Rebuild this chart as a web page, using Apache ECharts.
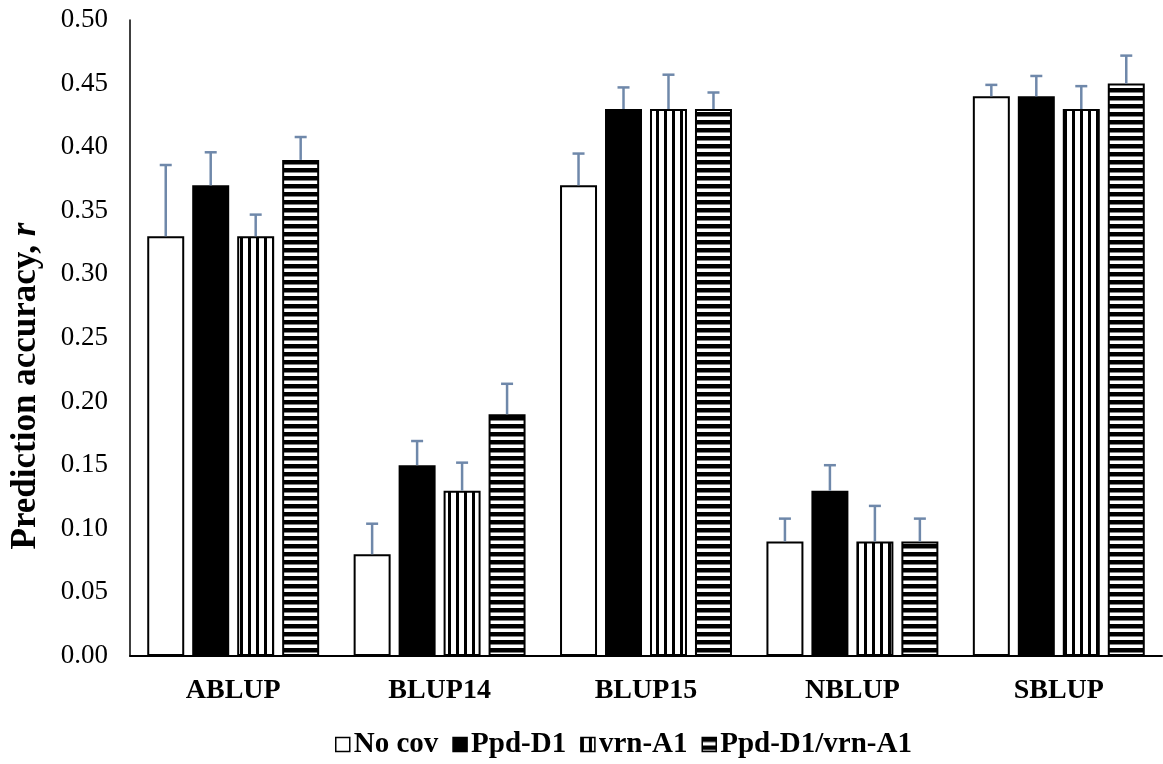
<!DOCTYPE html>
<html>
<head>
<meta charset="utf-8">
<script src="https://cdn.jsdelivr.net/npm/echarts@6/dist/echarts.min.js"></script>
<style>html,body{margin:0;padding:0;background:#fff;}#c{width:1163px;height:764px;}</style>
</head>
<body>
<div id="c"></div>
<script>
const categories = ['ABLUP', 'BLUP14', 'BLUP15', 'NBLUP', 'SBLUP'];
const seriesNames = ['No cov', 'Ppd-D1', 'vrn-A1', 'Ppd-D1/vrn-A1'];
const noCov = [0.33, 0.08, 0.37, 0.09, 0.44];
const ppdD1 = [0.37, 0.15, 0.43, 0.13, 0.44];
const vrnA1 = [0.33, 0.13, 0.43, 0.09, 0.43];
const ppdVrn = [0.39, 0.19, 0.43, 0.09, 0.45];
// upper end of error bars
const noCovErr = [0.386, 0.104, 0.395, 0.108, 0.449];
const ppdD1Err = [0.396, 0.169, 0.447, 0.150, 0.456];
const vrnA1Err = [0.347, 0.152, 0.457, 0.118, 0.448];
const ppdVrnErr = [0.408, 0.214, 0.443, 0.108, 0.472];
const yTicks = [0.00, 0.05, 0.10, 0.15, 0.20, 0.25, 0.30, 0.35, 0.40, 0.45, 0.50];

const values = [noCov, ppdD1, vrnA1, ppdVrn];
const errs = [noCovErr, ppdD1Err, vrnA1Err, ppdVrnErr];

function makePattern(kind) {
  const c = document.createElement('canvas');
  c.width = 8; c.height = 8;
  const g = c.getContext('2d');
  g.fillStyle = '#fff'; g.fillRect(0, 0, 8, 8);
  g.fillStyle = '#000';
  if (kind === 'v') g.fillRect(0, 0, 3, 8);
  else g.fillRect(0, 0, 8, 4.5);
  return c;
}
const fills = [
  '#ffffff',
  '#000000',
  { image: makePattern('v'), repeat: 'repeat' },
  { image: makePattern('h'), repeat: 'repeat' }
];

const CAT_GAP = 0.167, BAR_GAP = 0.216, N = 4;
const serif = '"Liberation Serif", "Times New Roman", serif';

const series = [];
for (let i = 0; i < N; i++) {
  series.push({
    name: seriesNames[i],
    type: 'bar',
    data: values[i],
    barCategoryGap: (CAT_GAP * 100) + '%',
    barGap: (BAR_GAP * 100) + '%',
    itemStyle: { color: fills[i], borderColor: '#000', borderWidth: 2 },
    emphasis: { disabled: true },
    z: 2
  });
}
const errData = [];
for (let i = 0; i < N; i++) {
  for (let k = 0; k < categories.length; k++) {
    errData.push([k, values[i][k], errs[i][k], i]);
  }
}
series.push({
  type: 'custom',
  name: 'err',
  data: errData,
  encode: { x: 0, y: [1, 2] },
  z: 5,
  silent: true,
  renderItem: function (params, api) {
    const k = api.value(0), i = api.value(3);
    const band = api.size([1, 0])[0];
    const usable = band * (1 - CAT_GAP);
    const bw = usable / (N + (N - 1) * BAR_GAP);
    const off = -usable / 2 + i * bw * (1 + BAR_GAP) + bw / 2;
    const p0 = api.coord([k, api.value(1)]);
    const p1 = api.coord([k, api.value(2)]);
    const x = p0[0] + off;
    const style = { stroke: '#6f88aa', lineWidth: 2.5 };
    return {
      type: 'group',
      children: [
        { type: 'line', shape: { x1: x, y1: p0[1], x2: x, y2: p1[1] }, style: style },
        { type: 'line', shape: { x1: x - 6, y1: p1[1], x2: x + 6, y2: p1[1] }, style: style }
      ]
    };
  }
});

const chart = echarts.init(document.getElementById('c'));
chart.setOption({
  animation: false,
  backgroundColor: '#fff',
  grid: { left: 130, right: 1, top: 20, bottom: 108, containLabel: false },
  legend: {
    data: seriesNames,
    bottom: 0,
    left: 330,
    icon: 'rect',
    itemWidth: 14,
    itemHeight: 14,
    itemGap: 14,
    textStyle: { fontFamily: serif, fontWeight: 'bold', fontSize: 29, color: '#000', padding: [0, 0, 0, -1] },
    itemStyle: { borderColor: '#000', borderWidth: 1.5 }
  },
  graphic: [{
    type: 'text',
    x: 26,
    y: 386,
    rotation: Math.PI / 2,
    style: {
      text: '{b|Prediction accuracy, }{i|r}',
      align: 'center',
      verticalAlign: 'middle',
      rich: {
        b: { fontFamily: serif, fontWeight: 'bold', fontSize: 35, fill: '#000' },
        i: { fontFamily: serif, fontWeight: 'bold', fontStyle: 'italic', fontSize: 35, fill: '#000' }
      }
    }
  }],
  xAxis: {
    type: 'category',
    data: categories,
    axisLine: { lineStyle: { color: '#000', width: 2 } },
    axisTick: { show: false },
    axisLabel: { fontFamily: serif, fontWeight: 'bold', fontSize: 28, color: '#000', margin: 21 }
  },
  yAxis: {
    type: 'value',
    min: yTicks[0],
    max: yTicks[yTicks.length - 1],
    interval: 0.05,
    splitLine: { show: false },
    axisLine: { show: true, lineStyle: { color: '#000', width: 1.5 } },
    axisTick: { show: false },
    axisLabel: { fontFamily: serif, fontSize: 27, color: '#000', margin: 22, formatter: v => v.toFixed(2) }
  },
  series: series
});
</script>
</body>
</html>
